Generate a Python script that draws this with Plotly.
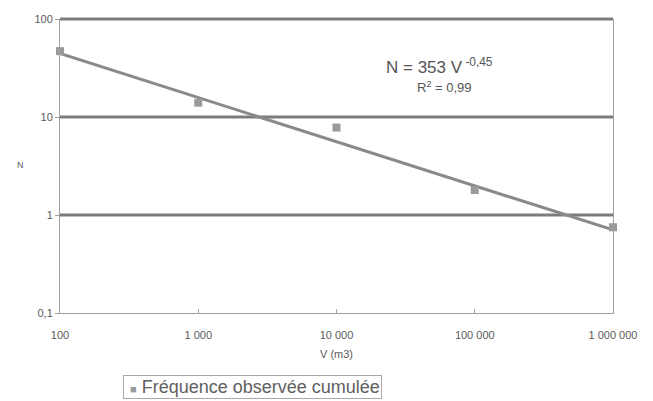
import numpy as np
import plotly.graph_objects as go

# Observed cumulative frequency N versus volume V (m3)
volumes = [100, 1000, 10000, 100000, 1000000]
frequencies = [47, 14, 7.8, 1.8, 0.75]
series_name = "Fréquence observée cumulée"

# Power-law fit N = a * V^b
fit_a = 353
fit_b = -0.45
fit_r2 = "0,99"

x_ticks = [100, 1000, 10000, 100000, 1000000]
x_labels = ["100", "1 000", "10 000", "100 000", "1 000 000"]
y_ticks = [0.1, 1, 10, 100]
y_labels = ["0,1", "1", "10", "100"]

GRID = "#7c7c7c"
LINE = "#8a8a8a"
MARK = "#9a9a9a"
TEXT = "#5a5a5a"
FONT = "Liberation Sans"
Y_RANGE = [-1, 2]

# plot area in pixels: left 60, right 613, top 19, bottom 313
PW, PH = 553, 294


def px_x(x):
    return (x - 60) / PW


def px_y(y):
    return (313 - y) / PH


fit_x = np.array([volumes[0], volumes[-1]], dtype=float)
fit_y = fit_a * fit_x ** fit_b

fig = go.Figure()

fig.add_trace(go.Scatter(
    x=fit_x, y=fit_y, mode="lines",
    line=dict(color=LINE, width=3), showlegend=False, hoverinfo="skip",
))
fig.add_trace(go.Scatter(
    x=volumes, y=frequencies, mode="markers",
    marker=dict(symbol="square", size=8, color=MARK),
    name=series_name, showlegend=False, cliponaxis=False,
))

# Heavy horizontal grid lines at the decades above the baseline
for v in y_ticks[1:]:
    yp = (np.log10(v) - Y_RANGE[0]) / (Y_RANGE[1] - Y_RANGE[0])
    fig.add_shape(type="line", xref="paper", x0=0, x1=1, yref="paper", y0=yp, y1=yp,
                  line=dict(color=GRID, width=3), layer="below")

# Equation of the fitted curve
fig.add_annotation(
    x=px_x(384), y=px_y(66), xref="paper", yref="paper", showarrow=False,
    xanchor="left", yanchor="middle",
    text="N = %d V<sup> %s</sup>" % (fit_a, str(fit_b).replace(".", ",")),
    font=dict(family=FONT, size=17, color="#555555"),
)
fig.add_annotation(
    x=px_x(415), y=px_y(87), xref="paper", yref="paper", showarrow=False,
    xanchor="left", yanchor="middle",
    text="R<sup>2</sup> = " + fit_r2,
    font=dict(family=FONT, size=13, color="#555555"),
)

# Upright axis title for N
fig.add_annotation(
    x=px_x(15), y=px_y(165), xref="paper", yref="paper", showarrow=False,
    text="N", font=dict(family=FONT, size=9, color=TEXT),
)

# Boxed series key below the axis
fig.add_annotation(
    x=px_x(123), y=px_y(375), xref="paper", yref="paper",
    xanchor="left", yanchor="top", showarrow=False,
    text="&nbsp;<span style='color:%s;font-size:11px'>■</span> %s" % (MARK, series_name),
    font=dict(family=FONT, size=18, color="#606060"),
    bordercolor="#a8a8a8", borderwidth=1, borderpad=1,
)

fig.update_layout(
    width=653, height=401,
    margin=dict(l=60, r=40, t=19, b=88, autoexpand=False),
    paper_bgcolor="white", plot_bgcolor="white",
    font=dict(family=FONT, color=TEXT, size=11),
    showlegend=False,
)

fig.update_xaxes(
    type="log", range=[2, 6],
    tickvals=x_ticks, ticktext=x_labels,
    showgrid=False, zeroline=False,
    showline=True, linecolor="#a0a0a0", linewidth=1,
    ticks="inside", ticklen=4, tickcolor="#a0a0a0",
    ticklabelstandoff=12,
    tickfont=dict(size=11, color=TEXT),
    title=dict(text="V (m3)", font=dict(size=11, color=TEXT), standoff=10),
)
fig.update_yaxes(
    type="log", range=Y_RANGE,
    tickvals=y_ticks, ticktext=y_labels,
    showgrid=False, zeroline=False,
    showline=True, linecolor="#a0a0a0", linewidth=1, mirror=True,
    ticks="outside", ticklen=4, tickcolor="#a0a0a0",
    tickfont=dict(size=11, color=TEXT),
)

fig.write_html("out.html")
